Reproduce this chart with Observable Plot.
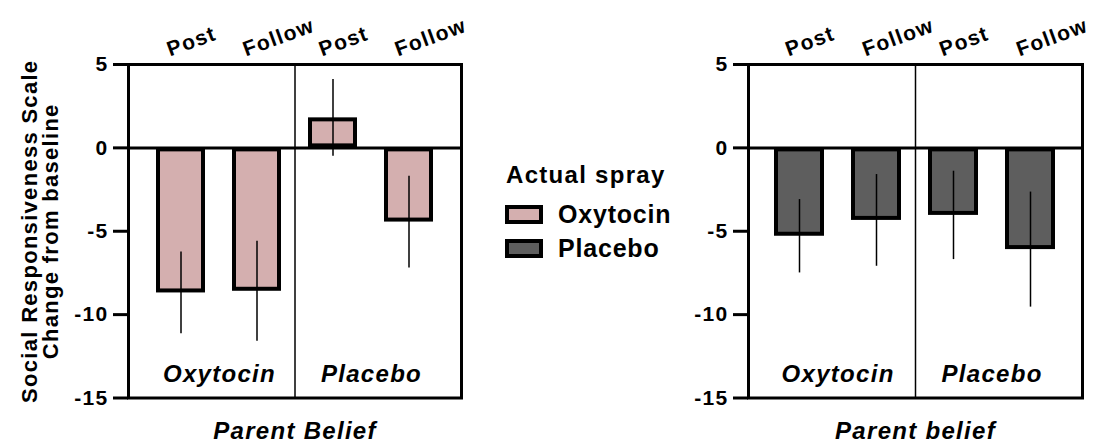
<!DOCTYPE html>
<html><head><meta charset="utf-8">
<script src="https://cdn.jsdelivr.net/npm/d3@7"></script>
<script src="https://cdn.jsdelivr.net/npm/@observablehq/plot@0.6"></script>
<style>
body{margin:0;background:#fff;font-family:"Liberation Sans",Arial,sans-serif;}
#wrap{position:relative;width:1099px;height:446px;overflow:hidden;background:#fff;}
.panel{position:absolute;top:0;}
.lg{position:absolute;font-weight:bold;color:#000;white-space:nowrap;line-height:1;}
.sw{position:absolute;box-sizing:border-box;border:4px solid #000;}
</style></head><body><div id="wrap"></div>
<script>
// ---- data ----
const beliefs = ["Oxytocin", "Placebo"];          // parent belief groups
const timepoints = ["Post", "Follow"];             // time points within group
const sprays = ["Oxytocin", "Placebo"];            // actual spray (legend)
const sprayColors = ["#d4afaf", "#5e5e5e"];
const oxytocinMeans = [-8.7, -8.6, 1.8, -4.45];    // actual spray = Oxytocin
const oxytocinSE    = [2.45, 3.0, 2.3, 2.75];
const placeboMeans  = [-5.3, -4.35, -4.05, -6.1];  // actual spray = Placebo
const placeboSE     = [2.2, 2.75, 2.65, 3.45];
const yTicks = [5, 0, -5, -10, -15];
const yTitle = "Social Responsiveness Scale\nChange from baseline";
const xTitles = ["Parent Belief", "Parent belief"];
const legendTitle = "Actual spray";

const FONT = '"Liberation Sans", Arial, sans-serif';

function makeRows(means, ses) {
  return means.map((m, i) => {
    const belief = beliefs[Math.floor(i / 2)];
    const time = timepoints[i % 2];
    return {key: belief + " " + time, belief, time, mean: m, se: ses[i]};
  });
}

function panel(means, ses, color, xTitle, showYTitle, width, marginRight) {
  const rows = makeRows(means, ses);
  const keys = rows.map(d => d.key);
  const marginLeft = 128;
  const pi = 0.35, po = 0.3375;
  const step = (width - marginLeft - marginRight) / (keys.length - pi + 2 * po);
  const groups = beliefs.map(b => ({belief: b, key: b + " " + timepoints[0]}));
  const marks = [
    Plot.barY(rows, {x: "key", y: "mean", fill: color, stroke: "black", strokeWidth: 4, inset: 2}),
    Plot.ruleX(rows, {x: "key", y1: d => d.mean - d.se, y2: d => d.mean + d.se, stroke: "black", strokeWidth: 1.5}),
    Plot.ruleX([0], {x: null, stroke: "black", strokeWidth: 1.5}),
    Plot.ruleY([0], {stroke: "black", strokeWidth: 3}),
    Plot.frame({stroke: "black", strokeWidth: 3}),
    Plot.axisY({ticks: yTicks, label: null, tickSize: 15, tickPadding: 5, strokeWidth: 3, fontSize: 21, fontWeight: "bold", tickFormat: d => String(d)}),
    Plot.text(rows, {x: "key", frameAnchor: "top", text: "time", rotate: -20, textAnchor: "start", lineAnchor: "bottom", dx: -11, dy: -8, fontSize: 21, fontWeight: "bold"}),
    Plot.text(groups, {x: "key", frameAnchor: "bottom", text: "belief", dx: step / 2, dy: -24, lineAnchor: "middle", fontSize: 24, fontWeight: "bold", fontStyle: "italic"}),
    Plot.text([xTitle], {frameAnchor: "bottom", text: d => d, dy: 33, lineAnchor: "middle", fontSize: 24, fontWeight: "bold", fontStyle: "italic"})
  ];
  if (showYTitle) {
    marks.push(Plot.text([yTitle], {frameAnchor: "left", text: d => d, rotate: -90, dx: -88, lineAnchor: "middle", textAnchor: "middle", lineHeight: 0.98, fontSize: 22, fontWeight: "bold"}));
  }
  return Plot.plot({
    width, height: 446,
    marginTop: 64, marginBottom: 48.5, marginLeft, marginRight,
    style: {fontFamily: FONT, fontWeight: "bold", fontSize: "21px", color: "black", background: "transparent", overflow: "visible", letterSpacing: "1.3px"},
    x: {domain: keys, paddingInner: pi, paddingOuter: po, axis: null},
    y: {domain: [-15, 5], axis: null},
    marks
  });
}

const wrap = document.getElementById("wrap");
const left = panel(oxytocinMeans, oxytocinSE, sprayColors[0], xTitles[0], true, 480, 19);
left.classList.add("panel"); left.style.left = "0px";
wrap.appendChild(left);
const right = panel(placeboMeans, placeboSE, sprayColors[1], xTitles[1], false, 479, 17);
right.classList.add("panel"); right.style.left = "620px";
wrap.appendChild(right);

// legend
const lt = document.createElement("div");
lt.className = "lg"; lt.textContent = legendTitle;
Object.assign(lt.style, {left: "506px", top: "163px", fontSize: "24px", letterSpacing: "1.3px"});
wrap.appendChild(lt);
const swTops = [205, 239], txTops = [202, 236];
sprays.forEach((s, i) => {
  const sw = document.createElement("div");
  sw.className = "sw";
  Object.assign(sw.style, {left: "505px", top: swTops[i] + "px", width: "38px", height: "19px", background: sprayColors[i]});
  wrap.appendChild(sw);
  const t = document.createElement("div");
  t.className = "lg"; t.textContent = s;
  Object.assign(t.style, {left: "558px", top: txTops[i] + "px", fontSize: "25px", letterSpacing: "0.8px"});
  wrap.appendChild(t);
});
</script>
</body></html>
